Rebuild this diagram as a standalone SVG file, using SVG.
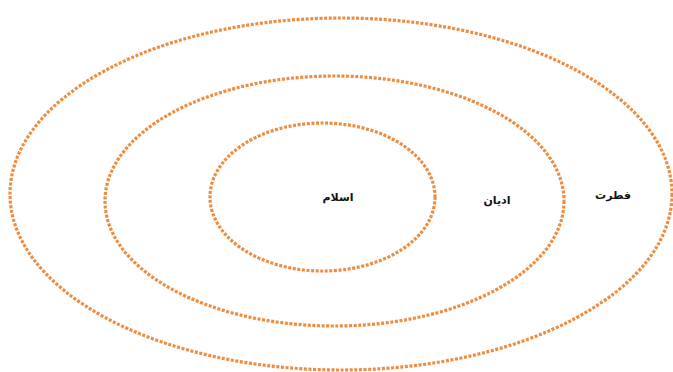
<svg xmlns="http://www.w3.org/2000/svg" width="673" height="372" viewBox="0 0 673 372">
<style>
.ring{fill:none;stroke:#EE8C40;stroke-width:3.2;stroke-dasharray:3 1.6}
.lbl{font-family:"DejaVu Sans","Liberation Sans",sans-serif;font-size:11px;font-weight:bold;fill:#111;text-anchor:middle}
</style>
<rect width="673" height="372" fill="#fff"/>
<g id="outer">
<ellipse class="ring" cx="341" cy="194" rx="331" ry="176"/>
<text class="lbl" x="613" y="199" direction="rtl">فطرت</text>
</g>
<g id="middle">
<ellipse class="ring" cx="334.5" cy="201" rx="229.5" ry="125"/>
<text class="lbl" x="497" y="204" direction="rtl">ادیان</text>
</g>
<g id="inner">
<ellipse class="ring" cx="322.5" cy="197" rx="112.5" ry="74"/>
<text class="lbl" x="338" y="201" direction="rtl">اسلام</text>
</g>
<g id="connectors"/>
</svg>
